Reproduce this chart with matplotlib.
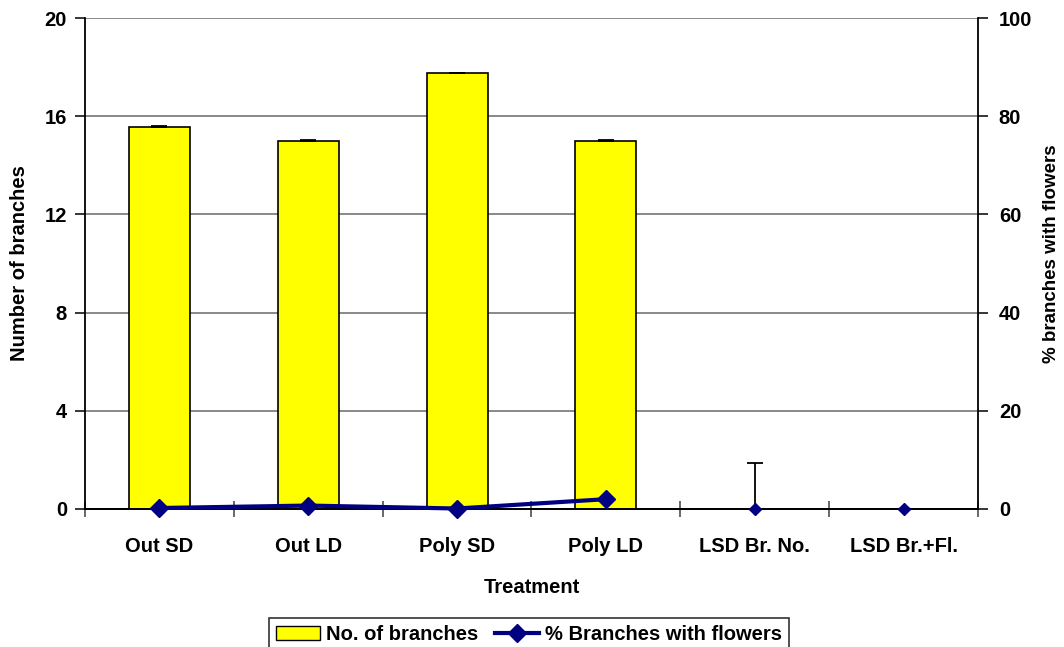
import matplotlib
matplotlib.use("Agg")
import matplotlib.pyplot as plt
import numpy as np
from matplotlib.patches import Patch
from matplotlib.lines import Line2D

plt.rcParams['font.family'] = ['Liberation Sans', 'DejaVu Sans']
plt.rcParams['font.weight'] = 'bold'

categories = ["Out SD", "Out LD", "Poly SD", "Poly LD", "LSD Br. No.", "LSD Br.+Fl."]
branches = [15.55, 15.0, 17.75, 15.0, 0.0, 0.0]
branches_err = [0.04, 0.03, 0.03, 0.02, 1.87, 0.0]
pct_flowers = [0.2, 0.7, 0.1, 2.0]
lsd_pct = [0.0, 0.0]
lsd_pct_err = [0.0, 0.3]

x = np.arange(len(categories))
FS = 14.5
NAVY = '#000080'

fig = plt.figure(figsize=(10.64, 6.47), dpi=100)
ax = fig.add_axes([85/1064, 1 - 509/647, (978-85)/1064, (509-18)/647])
ax2 = ax.twinx()

# Bars: number of branches (left axis)
ax.bar(x[:4], branches[:4], width=0.41, color='#FFFF00', edgecolor='black', linewidth=1.2, zorder=3)
ax.errorbar(x, branches, yerr=[np.zeros(len(x)), branches_err], fmt='none',
            ecolor='black', elinewidth=1.3, capsize=6, capthick=1.3, zorder=4)

# Line: % branches with flowers (right axis)
ax2.plot(x[:4], pct_flowers, color=NAVY, linewidth=3, marker='D', markersize=9.5,
         zorder=5, clip_on=False)
ax2.errorbar(x[4:], lsd_pct, yerr=[np.zeros(2), lsd_pct_err], fmt='D', color=NAVY,
             markersize=6, ecolor=NAVY, capsize=4, zorder=5, clip_on=False)

ax.set_xlim(-0.5, len(categories) - 0.5)
ax.set_ylim(0, 20)
ax2.set_ylim(0, 100)
ax.set_yticks(np.arange(0, 21, 4))
ax2.set_yticks(np.arange(0, 101, 20))
ax.yaxis.grid(True, color='#808080', linewidth=1.3, zorder=0)
ax.set_axisbelow(True)

ax.set_xticks(x)
ax.set_xticklabels(categories)
ax.set_xticks(np.arange(-0.5, len(categories), 1), minor=True)
ax.tick_params(axis='x', which='major', length=0, pad=20, labelsize=FS)
ax.tick_params(axis='x', which='minor', length=12, direction='inout', width=1.1, color='#404040')
ax.tick_params(axis='y', length=7, width=1.1, labelsize=FS, pad=6)
ax2.tick_params(axis='y', length=7, width=1.1, labelsize=FS, pad=8)

for a in (ax, ax2):
    a.spines['top'].set_visible(False)
    for s in ('left', 'right', 'bottom'):
        a.spines[s].set_linewidth(1.3)
ax2.spines['left'].set_visible(False)
ax.spines['right'].set_visible(False)

ax.set_xlabel("Treatment", fontsize=FS, fontweight='bold', labelpad=16)
ax.set_ylabel("Number of branches", fontsize=FS, fontweight='bold')
ax2.set_ylabel("% branches with flowers", fontsize=13.5, fontweight='bold')
ax.yaxis.set_label_coords((29 - 85) / 893, 0.5)
ax2.yaxis.set_label_coords((1043 - 85) / 893, 0.52)

handles = [Patch(facecolor='#FFFF00', edgecolor='black', label='No. of branches'),
           Line2D([0], [0], color=NAVY, linewidth=3, marker='D', markersize=9.5,
                  label='% Branches with flowers')]
leg = fig.legend(handles=handles, loc='lower center', bbox_to_anchor=(529/1064, -0.022), ncol=2,
                 frameon=True, fancybox=False, edgecolor='black', fontsize=FS,
                 handlelength=2.2, handletextpad=0.3, columnspacing=0.8, borderpad=0.35)
leg.get_frame().set_linewidth(1.2)

fig.savefig("out.png", dpi=100)
